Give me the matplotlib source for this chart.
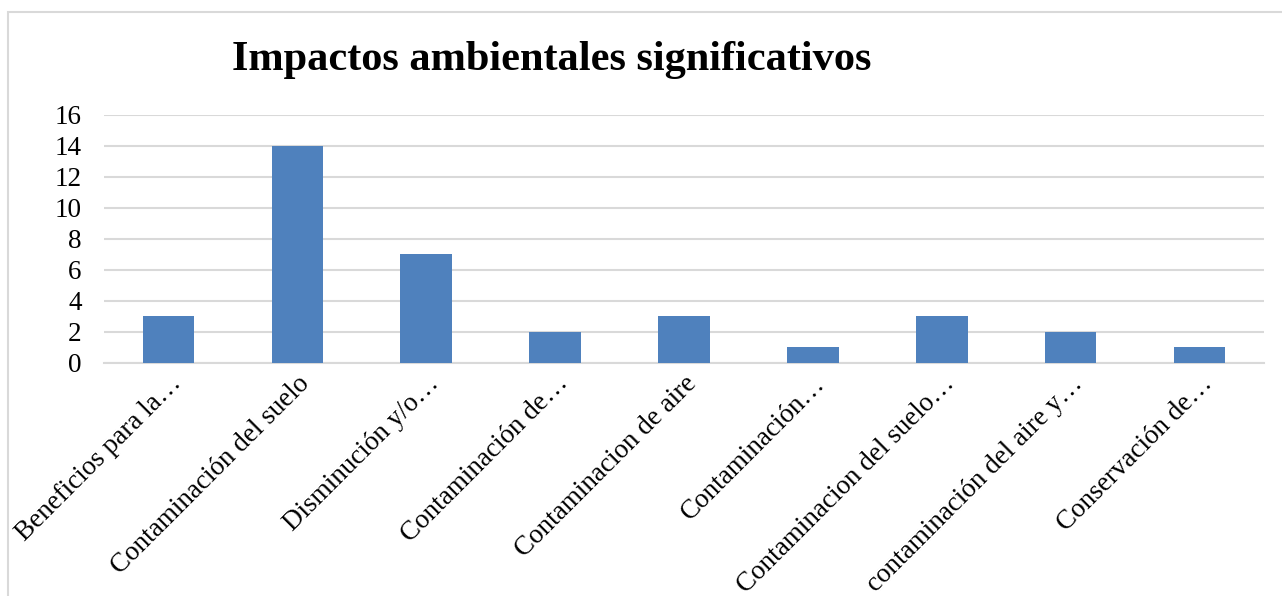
import matplotlib
matplotlib.use("Agg")
import matplotlib.pyplot as plt
from matplotlib.patches import Rectangle

# categories and counts
categorias = [
    "Beneficios para la…",
    "Contaminación del suelo",
    "Disminución y/o…",
    "Contaminación de…",
    "Contaminacion de aire",
    "Contaminación…",
    "Contaminacion del suelo…",
    "contaminación del aire y…",
    "Conservación de…",
]
valores = [3, 14, 7, 2, 3, 1, 3, 2, 1]
yticks = [0, 2, 4, 6, 8, 10, 12, 14, 16]

plt.rcParams['font.family'] = ['Liberation Serif', 'DejaVu Serif']

fig = plt.figure(figsize=(12.82, 5.96), dpi=100)
ax = fig.add_axes([104 / 1282, 1 - 362.7 / 596, (1264 - 104) / 1282, (362.7 - 114.7) / 596])

# chart frame (light gray border, cut off at right and bottom)
fig.patches.append(Rectangle((8 / 1282, -0.1), 1.2, 1 - 12 / 596 + 0.1,
                             transform=fig.transFigure, fill=False,
                             edgecolor='#d9d9d9', linewidth=1.5))

x = range(len(categorias))
ax.bar(x, valores, width=0.4, color='#4f81bd', zorder=3)

ax.set_xlim(-0.5, len(categorias) - 0.5)
ax.set_ylim(0, 16)
ax.set_yticks(yticks)
ax.set_yticklabels([str(v) for v in yticks], fontsize=19.5)
ax.grid(axis='y', color='#d9d9d9', linewidth=1.5, zorder=0)
ax.tick_params(axis='y', length=0, pad=16)
ax.tick_params(axis='x', length=0, pad=6)
for s in ['top', 'right', 'left']:
    ax.spines[s].set_visible(False)
ax.spines['bottom'].set_color('#d9d9d9')
ax.spines['bottom'].set_linewidth(1.5)

ax.set_xticks(list(x))
ax.set_xticklabels(categorias, rotation=45, ha='right', va='top',
                   rotation_mode='anchor', fontsize=19.5)

fig.text(552 / 1282, 1 - 60 / 596, "Impactos ambientales significativos",
         ha='center', va='center', fontsize=30.5, fontweight='bold')

fig.savefig("out.png", dpi=100)
